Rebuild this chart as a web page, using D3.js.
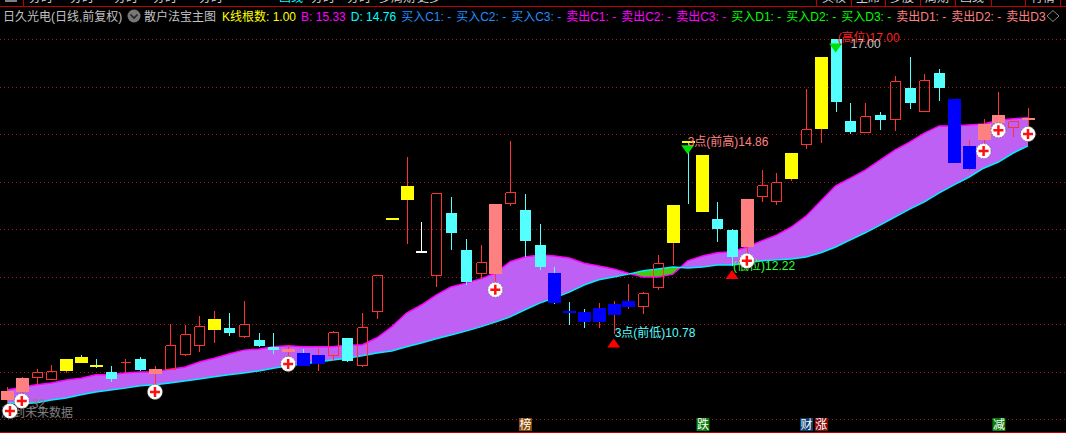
<!DOCTYPE html>
<html><head><meta charset="utf-8">
<script src="https://cdn.jsdelivr.net/npm/d3@7"></script>
<style>html,body{margin:0;padding:0;background:#000;overflow:hidden}svg{display:block}text{font-family:"Liberation Sans","Noto Sans CJK SC",sans-serif;font-size:12px}</style>
</head><body>
<script>
const kinds = "ssuuyyydudsuuuyduddsbbuduuyywuddusuddbbbbbbuuyyyddsuuyuyddudududbbssus".split("");
const open_ = [9.40,9.57,9.89,9.84,10.01,10.30,10.14,9.99,10.20,10.26,9.95,10.05,10.37,10.56,10.87,10.92,10.75,10.66,10.52,10.41,10.39,10.16,10.35,10.71,10.14,11.27,13.23,13.61,12.52,12.03,13.34,12.56,12.07,12.05,13.55,13.40,12.66,12.07,11.27,11.25,11.04,11.19,11.36,11.38,11.78,12.71,14.86,13.36,13.21,12.98,12.62,13.69,13.59,14.05,14.79,15.11,17.00,15.27,15.04,15.40,15.32,15.97,15.48,16.28,15.74,14.26,14.87,15.23,15.15,15.29];
const close_ = [9.59,9.86,9.99,10.01,10.26,10.18,10.09,9.84,10.21,10.03,10.05,10.56,10.79,10.96,11.11,10.81,11.00,10.54,10.45,10.47,10.12,10.35,10.83,10.22,10.94,12.03,13.24,13.91,12.53,13.76,12.92,11.89,12.31,13.53,13.78,12.75,12.20,11.44,11.23,11.04,11.34,11.42,11.48,11.65,12.28,13.51,14.83,14.56,13.00,12.41,13.63,13.93,13.99,14.60,15.11,16.62,15.67,15.04,15.38,15.29,16.12,15.65,16.14,15.97,14.39,14.75,15.21,15.40,15.27,15.34];
const high_ = [9.67,9.89,10.05,10.14,10.26,10.35,10.26,10.12,10.26,10.30,10.12,11.00,10.98,11.17,11.27,11.23,11.48,10.81,10.81,10.56,10.47,10.47,10.85,10.71,11.23,12.03,13.24,14.52,13.15,13.76,13.67,12.79,12.66,13.53,14.85,13.74,13.11,12.20,11.46,11.32,11.44,11.48,11.84,11.67,12.45,13.51,14.86,14.56,13.57,13.00,13.63,14.24,14.18,14.60,15.95,16.62,17.00,15.65,15.65,15.46,16.22,16.62,16.26,16.37,15.74,14.87,15.32,15.88,15.27,15.55];
const low_ = [9.34,9.44,9.72,9.82,9.97,10.18,10.07,9.78,9.97,10.01,9.72,10.03,10.33,10.41,10.60,10.75,10.71,10.52,10.37,10.24,10.12,10.01,10.22,10.20,10.09,11.11,13.23,12.68,12.52,11.78,12.56,11.82,11.95,11.86,13.48,12.41,12.14,11.42,10.98,10.92,10.92,10.78,11.32,11.21,11.72,12.24,13.53,13.36,12.73,12.22,12.50,13.57,13.51,14.01,14.68,14.81,15.46,15.00,15.04,15.08,15.06,15.53,15.48,15.69,14.39,14.22,14.77,15.15,14.94,15.15];
const ribbonUpper = [9.61,9.67,9.72,9.76,9.82,9.86,9.93,9.93,9.97,9.99,9.99,10.05,10.09,10.20,10.28,10.37,10.45,10.47,10.52,10.54,10.52,10.52,10.52,10.56,10.56,10.71,10.94,11.23,11.40,11.61,11.78,11.86,11.95,12.07,12.31,12.41,12.45,12.43,12.39,12.28,12.22,12.16,12.07,11.99,11.99,12.05,12.33,12.43,12.50,12.52,12.62,12.75,12.87,13.04,13.27,13.59,13.91,14.07,14.24,14.45,14.66,14.83,15.02,15.17,15.17,15.19,15.21,15.29,15.32,15.34];
const ribbonLower = [9.34,9.32,9.34,9.40,9.44,9.51,9.57,9.61,9.65,9.70,9.72,9.76,9.80,9.84,9.89,9.93,9.97,10.01,10.07,10.12,10.16,10.20,10.24,10.28,10.33,10.39,10.43,10.52,10.60,10.69,10.77,10.85,10.94,11.04,11.15,11.30,11.44,11.55,11.67,11.82,11.93,11.99,12.05,12.12,12.16,12.20,12.18,12.20,12.24,12.24,12.28,12.33,12.35,12.37,12.41,12.50,12.62,12.77,12.92,13.08,13.25,13.42,13.57,13.76,13.93,14.09,14.28,14.41,14.60,14.75];
const gridValues = [9,10,11,12,13,14,15,16,17];
const buyIdx = [0.2,1,10,19,33,50,66,67,69];
const buyVal = [9.17,9.38,9.57,10.16,11.72,12.33,14.64,15.08,15.00];
const sellTriIdx = [46,56], sellTriVal = [14.86,17.00];
const upTriIdx = [41,49], upTriVal = [10.78,12.22];
const tagIdx = [35,47,54,55,67];
const tagText = ["榜","跌","财","涨","减"];
const tagFill = ["#8a4a06","#0b7d0b","#0b3f70","#8a0a0a","#0b7d0b"];
const legendItems = [
 ["散户法宝主图","#c0c0c0"],["K线根数: 1.00","#ffff00"],["B: 15.33","#ff00ff"],["D: 14.76","#00ffff"],
 ["买入C1: -","#1e90ff"],["买入C2: -","#1e90ff"],["买入C3: -","#1e90ff"],
 ["卖出C1: -","#ff00ff"],["卖出C2: -","#ff00ff"],["卖出C3: -","#ff00ff"],
 ["买入D1: -","#00ff00"],["买入D2: -","#00ff00"],["买入D3: -","#00ff00"],
 ["卖出D1: -","#ff8080"],["卖出D2: -","#ff8080"],["卖出D3","#ff8080"]];
const title = "日久光电(日线,前复权)";
const menuLeft = ["分时","分时","分时","分时","分时","画线","分时","分时","多周期","更多"];
const menuLeftX = [29,70,114,153,199,279,311,347,379,417];
const menuRight = ["买权","主席","多股","周期","画线","行情"];
const menuRightX = [822,856,890,925,960,1031];
const menuSep = [816,851,885,920,955,991,1025,1060];

const W=1066,H=433;
const COL={u:"#ff3232",d:"#54ffff",y:"#ffff00",s:"#ff8080",b:"#0000ff",w:"#ffffff"};
const svg=d3.select("body").append("svg").attr("width",W).attr("height",H).style("background","#000");
const x=d3.scaleLinear().domain([0,69]).range([7,1028]);
const y=d3.scaleLinear().domain([9,17]).range([419,39]);
const data=kinds.map((k,i)=>({i,k,o:open_[i],c:close_[i],h:high_[i],l:low_[i],u:ribbonUpper[i],d:ribbonLower[i]}));

// grid
svg.append("g").selectAll("line").data(gridValues).join("line")
 .attr("x1",0).attr("x2",W).attr("y1",d=>Math.round(y(d))+.5).attr("y2",d=>Math.round(y(d))+.5)
 .attr("stroke","#a01818").attr("stroke-dasharray","1,3");

// ribbon
const defs=svg.append("defs");
defs.append("clipPath").attr("id","above").append("path").attr("d",d3.area().x(d=>x(d.i)).y0(0).y1(d=>y(d.d))(data));
defs.append("clipPath").attr("id","below").append("path").attr("d",d3.area().x(d=>x(d.i)).y0(H).y1(d=>y(d.d))(data));
const band=d3.area().x(d=>x(d.i)).y0(d=>y(d.d)).y1(d=>y(d.u));
svg.append("path").attr("d",band(data)).attr("fill","#bf60f5").attr("clip-path","url(#above)");
svg.append("path").attr("d",band(data)).attr("fill","#46c80e").attr("clip-path","url(#below)");
svg.append("path").attr("d",d3.line().x(d=>x(d.i)).y(d=>y(d.u))(data)).attr("fill","none").attr("stroke","#ff00ff").attr("stroke-width",1.5);
svg.append("path").attr("d",d3.line().x(d=>x(d.i)).y(d=>y(d.d))(data)).attr("fill","none").attr("stroke","#00f0ff").attr("stroke-width",1.5);

// grey under-labels
svg.append("text").text("测到未来数据").attr("x",1).attr("y",416.5).attr("fill","#808080");
svg.append("text").text("9.32").attr("x",x(1)).attr("y",y(9.32)+4).attr("fill","#808080");

// candles
const cg=svg.append("g").attr("shape-rendering","crispEdges");
const wickCol=d=>d.k==="w"?COL.w:(d.c>=d.o?COL.u:COL.d);
const cxOf=d=>Math.round(x(d.i))+.5;
const topV=d=>Math.max(d.o,d.c), botV=d=>Math.min(d.o,d.c);
cg.append("g").selectAll("line").data(data.filter(d=>d.h>topV(d))).join("line")
 .attr("x1",cxOf).attr("x2",cxOf).attr("y1",d=>y(d.h)).attr("y2",d=>y(topV(d))).attr("stroke",wickCol);
cg.append("g").selectAll("line").data(data.filter(d=>d.l<botV(d))).join("line")
 .attr("x1",cxOf).attr("x2",cxOf).attr("y1",d=>y(botV(d))).attr("y2",d=>y(d.l)).attr("stroke",wickCol);
const isHollow=d=>d.k==="u";
// hollow candles: four 1px sides, see-through interior
cg.append("g").selectAll("path").data(data.filter(isHollow)).join("path")
 .attr("d",d=>{
   const top=Math.round(y(topV(d)))+.5, bot=Math.round(y(botV(d)))+.5, l=cxOf(d)-5, r=cxOf(d)+5;
   return `M${l},${top}H${r}M${r},${top}V${bot}M${r},${bot}H${l}M${l},${bot}V${top}`;
 }).attr("fill","none").attr("stroke",COL.u).attr("stroke-width",1);
// filled candles
cg.append("g").selectAll("rect").data(data.filter(d=>!isHollow(d))).join("rect")
 .each(function(d){
   const w=(d.k==="d"||d.k==="w")?11:13;
   const top=Math.round(y(topV(d))), bot=Math.round(y(botV(d)));
   d3.select(this).attr("x",cxOf(d)-w/2).attr("y",top).attr("width",w).attr("height",Math.max(bot-top,2)).attr("fill",COL[d.k]);
 });

// triangles
const tri=(g,cx,cy,hw,h)=>`M${cx-hw},${cy}L${cx+hw},${cy}L${cx},${cy+h}Z`;
svg.append("g").selectAll("path").data(sellTriIdx).join("path")
 .attr("d",(d,i)=>tri(0,x(d),y(sellTriVal[i])+4.5,6.5,9)).attr("fill","#00e000");
svg.append("g").selectAll("path").data(upTriIdx).join("path")
 .attr("d",(d,i)=>tri(0,x(d),y(upTriVal[i])+13,6.5,-9)).attr("fill","#ff0000");

// labels
const labels=[["3点(前高)14.86",46,14.86,0,5,"#ff8080"],["3点(前低)10.78",41,10.78,1,3,"#54ffff"],["(低位)12.22",49,12.22,1,4,"#33ff33"],["(高位)17.00",56,17.00,2,3,"#ff2020"],["17.00",56,17.00,15,9,"#c0c0c0"]];
svg.append("g").selectAll("text").data(labels).join("text").text(d=>d[0])
 .attr("x",d=>x(d[1])+d[3]).attr("y",d=>y(d[2])+d[4]).attr("fill",d=>d[5]);

// buy markers
const bm=svg.append("g").selectAll("g").data(buyIdx).join("g")
 .attr("transform",(d,i)=>`translate(${x(d)},${y(buyVal[i])})`);
bm.append("circle").attr("r",7.5).attr("fill","#fff").attr("stroke","#777").attr("stroke-dasharray","1.5,1.5");
bm.append("path").attr("d","M-5,0H5M0,-5V5").attr("stroke","#ff1010").attr("stroke-width",2.5);

// bottom tags
const tg=svg.append("g").selectAll("g").data(tagIdx).join("g").attr("transform",d=>`translate(${x(d)},0)`);
tg.append("rect").attr("x",-6).attr("y",418).attr("width",13).attr("height",13).attr("fill",(d,i)=>tagFill[i]);
tg.append("text").text((d,i)=>tagText[i]).attr("x",.5).attr("y",429).attr("text-anchor","middle").attr("fill","#fff");

// frame
svg.append("rect").attr("x",0).attr("y",432).attr("width",W).attr("height",1).attr("fill","#c00000");
svg.append("rect").attr("x",0).attr("y",6).attr("width",W).attr("height",1).attr("fill","#c00000");
svg.append("rect").attr("x",23).attr("y",0).attr("width",1).attr("height",6).attr("fill","#c00000");
svg.append("rect").attr("x",5).attr("y",0).attr("width",12).attr("height",2).attr("fill","#808080");
svg.append("g").selectAll("rect").data(menuSep).join("rect").attr("x",d=>d).attr("y",0).attr("width",1).attr("height",6).attr("fill","#c00000");
defs.append("clipPath").attr("id","mc").append("rect").attr("width",W).attr("height",3);
const mg=svg.append("g").attr("clip-path","url(#mc)");
mg.selectAll("text.l").data(menuLeft).join("text").attr("class","l").text(d=>d).attr("x",(d,i)=>menuLeftX[i]).attr("y",2).attr("fill",d=>d==="画线"?"#00ffff":"#d0d0d0");
mg.selectAll("text.r").data(menuRight).join("text").attr("class","r").text(d=>d).attr("x",(d,i)=>menuRightX[i]).attr("y",2).attr("fill","#d0d0d0");

// header
svg.append("text").text(title).attr("x",3).attr("y",20.5).attr("fill","#c0c0c0");
svg.append("circle").attr("cx",134).attr("cy",16).attr("r",6.5).attr("fill","#777");
svg.append("path").attr("d","M130.5,14.5L134,18L137.5,14.5").attr("fill","none").attr("stroke","#222").attr("stroke-width",1.6);
let cur=144;
const hg=svg.append("g");
legendItems.forEach(([t,c],i)=>{
  const n=hg.append("text").text(t).attr("x",cur).attr("y",20.5).attr("fill",c);
  cur+=n.node().getComputedTextLength()+(i===0?6:5);
});
svg.append("path").attr("d","M1053,10.5L1059,16L1053,21.5L1047,16Z").attr("fill","none").attr("stroke","#888");
</script>
</body></html>
